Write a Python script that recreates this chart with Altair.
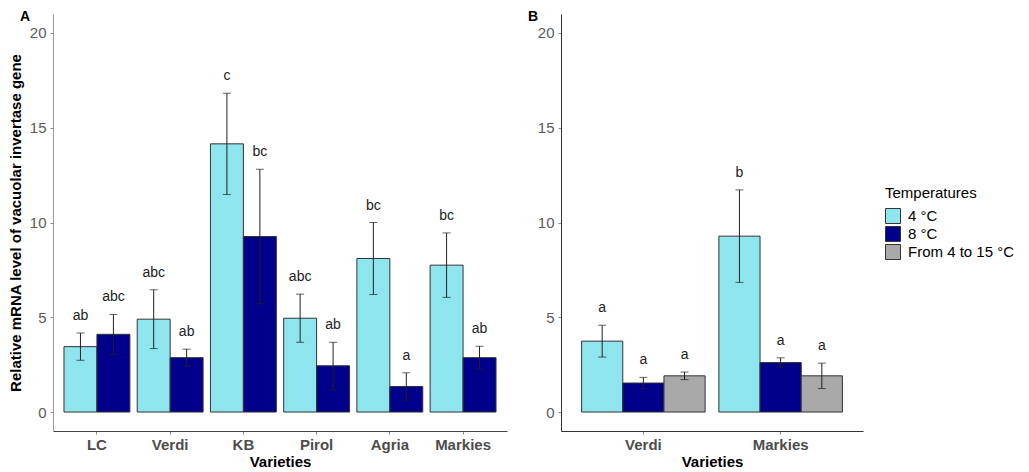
import altair as alt
import pandas as pd

# ---------------- data ----------------
temps = ["4 °C", "8 °C", "From 4 to 15 °C"]
colors = ["#8EE5EE", "#00008B", "#A9A9A9"]

varieties_a = ["LC", "Verdi", "KB", "Pirol", "Agria", "Markies"]
mean_a_4 = [3.45, 4.90, 14.15, 4.95, 8.10, 7.75]
se_a_4 = [0.72, 1.55, 2.67, 1.27, 1.90, 1.70]
let_a_4 = ["ab", "abc", "c", "abc", "bc", "bc"]
mean_a_8 = [4.10, 2.87, 9.26, 2.44, 1.35, 2.87]
se_a_8 = [1.05, 0.45, 3.55, 1.24, 0.72, 0.60]
let_a_8 = ["abc", "ab", "bc", "ab", "a", "ab"]

varieties_b = ["Verdi", "Markies"]
mean_b_4 = [3.74, 9.28]
se_b_4 = [0.84, 2.44]
let_b_4 = ["a", "b"]
mean_b_8 = [1.53, 2.61]
se_b_8 = [0.30, 0.25]
let_b_8 = ["a", "a"]
mean_b_415 = [1.91, 1.91]
se_b_415 = [0.20, 0.67]
let_b_415 = ["a", "a"]


def make_df(varieties, series):
    rows = []
    for temp, means, ses, lets in series:
        for v, m, s, l in zip(varieties, means, ses, lets):
            rows.append({"variety": v, "temp": temp, "mean": m,
                         "lo": m - s, "hi": m + s, "letter": l})
    return pd.DataFrame(rows)


df_a = make_df(varieties_a, [(temps[0], mean_a_4, se_a_4, let_a_4),
                             (temps[1], mean_a_8, se_a_8, let_a_8)])
df_b = make_df(varieties_b, [(temps[0], mean_b_4, se_b_4, let_b_4),
                             (temps[1], mean_b_8, se_b_8, let_b_8),
                             (temps[2], mean_b_415, se_b_415, let_b_415)])

FONT = "Liberation Sans"


def panel(df, varieties, temp_dom, tag, width, ytitle, ydomain_color, xdomain_color, show_legend):
    x = alt.X("variety:N", sort=varieties,
              scale=alt.Scale(paddingInner=0.1, paddingOuter=0.15),
              axis=alt.Axis(title="Varieties", labelAngle=0, labelFontSize=15,
                            labelFontWeight="bold", labelColor="#4D4D4D",
                            titleFontSize=15, titleFontWeight="bold", titleColor="#000000",
                            domainColor=xdomain_color, tickColor="#888888", tickSize=3,
                            labelPadding=3, titlePadding=2, labelFont=FONT, titleFont=FONT))
    xo = alt.XOffset("temp:N", sort=temp_dom,
                     scale=alt.Scale(domain=temp_dom, paddingInner=0, paddingOuter=0))
    yaxis = alt.Axis(values=[0, 5, 10, 15, 20], labelFontSize=15, labelColor="#5A5A5A",
                     domainColor=ydomain_color, tickColor="#888888", tickSize=3,
                     labelPadding=4, grid=False, labelFont=FONT, titleFont=FONT,
                     titleFontSize=15, titleFontWeight="bold", titleColor="#000000",
                     titlePadding=6)
    yscale = alt.Scale(domain=[-1, 21], nice=False, zero=False)
    if ytitle:
        y = alt.Y("mean:Q", scale=yscale, axis=yaxis, title=ytitle)
    else:
        y = alt.Y("mean:Q", scale=yscale, axis=yaxis, title=None)

    legend = alt.Legend(title="Temperatures", orient="none", legendX=832, legendY=172,
                        symbolType="square", symbolSize=225, symbolStrokeColor="#333333",
                        symbolStrokeWidth=1, symbolOpacity=1, labelFontSize=15,
                        titleFontSize=15, titleFontWeight="normal", titleColor="#000000",
                        labelColor="#000000", rowPadding=-4, titlePadding=7, labelOffset=7,
                        labelFont=FONT, titleFont=FONT, padding=0)
    color = alt.Color("temp:N", scale=alt.Scale(domain=temps, range=colors),
                      legend=legend if show_legend else None)

    base = alt.Chart(df)
    bars = base.mark_bar(stroke="#333333", strokeWidth=1, opacity=1).encode(
        x=x, xOffset=xo, y=y, y2=alt.datum(0), color=color)
    err = base.mark_rule(color="#222222", strokeWidth=1).encode(
        x=x, xOffset=xo, y="lo:Q", y2="hi:Q")
    cap_hi = base.mark_tick(color="#222222", thickness=1, size=8, orient="horizontal").encode(
        x=x, xOffset=xo, y="hi:Q")
    cap_lo = base.mark_tick(color="#222222", thickness=1, size=8, orient="horizontal").encode(
        x=x, xOffset=xo, y="lo:Q")
    txt = base.mark_text(dy=-17, fontSize=14, color="#222222", font=FONT).encode(
        x=x, xOffset=xo, y="hi:Q", text="letter:N")
    tag_df = pd.DataFrame({"t": [tag]})
    tagmark = alt.Chart(tag_df).mark_text(fontWeight="bold", fontSize=14, align="left",
                                          baseline="top", font=FONT, color="#000000").encode(
        x=alt.value(-33), y=alt.value(-4), text="t:N")
    return alt.layer(bars, err, cap_hi, cap_lo, txt, tagmark).properties(
        width=width, height=417, view=alt.ViewBackground(strokeWidth=0, strokeOpacity=0))


pa = panel(df_a, varieties_a, temps[:2], "A", 454,
           "Relative mRNA level of vacuolar invertase gene", "#9A9A9A", "#444444", True)
pb = panel(df_b, varieties_b, temps, "B", 302, None, "#333333", "#333333", True)

chart = alt.hconcat(pa, pb, spacing=21).resolve_scale(
    x="independent", y="independent", xOffset="independent", color="shared"
).configure_view(strokeWidth=0, strokeOpacity=0).configure(
    padding={"left": 0, "top": 2, "right": 0, "bottom": 0},
    style={"cell": {"strokeOpacity": 0, "strokeWidth": 0}}
).configure_axis(grid=False)

chart.save("out.html", embed_options={"renderer": "svg", "actions": False})
